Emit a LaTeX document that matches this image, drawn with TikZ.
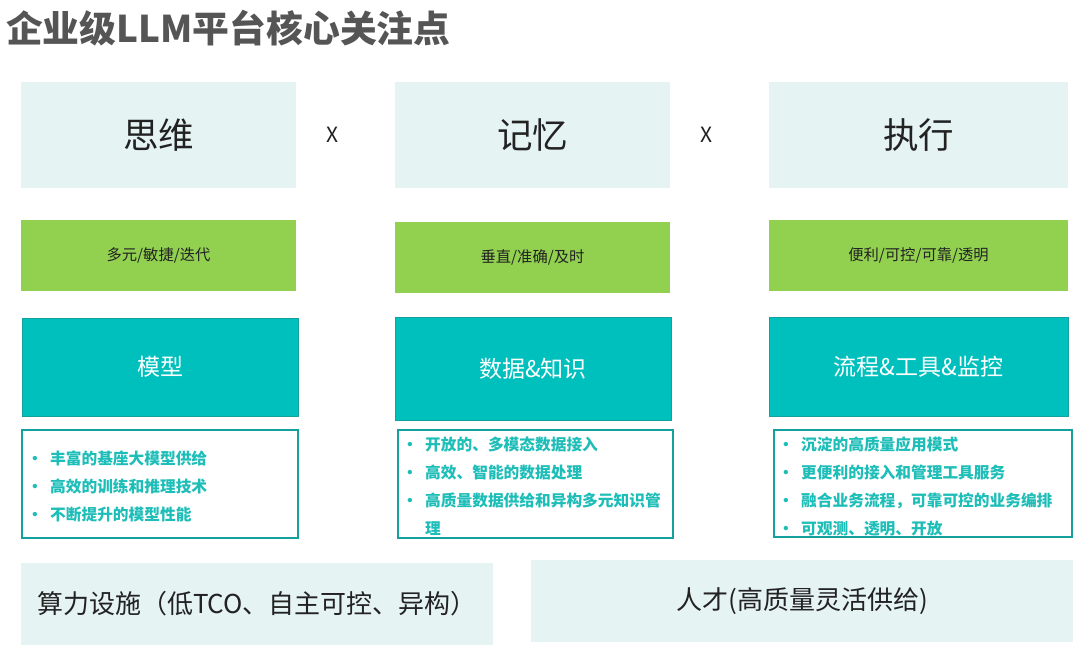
\documentclass[tikz,border=0pt]{standalone}
\usepackage{fontspec}
\setmainfont{Noto Sans CJK SC}
\definecolor{lightbg}{HTML}{E6F3F3}
\definecolor{lgreen}{HTML}{92D050}
\definecolor{teal1}{HTML}{00C0BD}
\definecolor{tealborder}{HTML}{14A19D}
\definecolor{bullettext}{HTML}{1DBDB8}
\definecolor{titlegray}{HTML}{555555}
\definecolor{headtext}{HTML}{222222}
\newcommand\bx[7]{\node[#1, minimum width={(#5)-(#3)}, minimum height={(#6)-(#4)}] (#2) at ({((#3)+(#5))/2},{((#4)+(#6))/2}) {#7};}
\newcommand\bl{\makebox[21pt][l]{\hspace{-2pt}\textbullet}}
\begin{document}
\begin{tikzpicture}[x=1pt,y=-1pt,
  lightbox/.style={fill=lightbg, draw=none, inner sep=0pt, text=headtext},
  headbox/.style={lightbox, font=\fontsize{35.5}{40}\selectfont},
  greenbox/.style={fill=lgreen, draw=none, inner sep=0pt, text=headtext, font=\fontsize{15.3}{18}\selectfont},
  tealbox/.style={fill=teal1, draw=tealborder, line width=1pt, inner sep=0pt, text=white, font=\fontsize{23}{28}\selectfont},
  listbox/.style={fill=white, draw=tealborder, line width=1.5pt, inner sep=0pt},
  listtext/.style={anchor=west, inner sep=0pt, text=bullettext, font=\bfseries\fontsize{15.7}{28}\selectfont, align=left},
  bottombox/.style={lightbox, font=\fontsize{26}{30}\selectfont},
  times/.style={text=headtext, font=\fontsize{21}{24}\selectfont, inner sep=0pt},
  titletext/.style={anchor=west, inner sep=0pt, text=titlegray, font=\bfseries\fontsize{36.8}{40}\selectfont}]
\useasboundingbox (0,0) rectangle (1080,656);
\node[titletext] (title) at (6,28) {企业级LLM平台核心关注点};
% row 1
\bx{headbox}{h1}{21}{82}{296}{188}{思维}
\bx{headbox}{h2}{395}{82}{670}{188}{记忆}
\bx{headbox}{h3}{769}{82}{1068}{188}{执行}
\node[times] (x1) at (333,135) {X};
\node[times] (x2) at (707,135) {X};
% row 2
\bx{greenbox}{g1}{21}{220}{296}{291}{多元/敏捷/迭代}
\bx{greenbox}{g2}{395}{222}{670}{293}{垂直/准确/及时}
\bx{greenbox}{g3}{769}{220}{1068}{291}{便利/可控/可靠/透明}
% row 3
\bx{tealbox}{t1}{22}{318}{298}{416}{模型}
\bx{tealbox}{t2}{395}{317}{671}{420}{数据\&知识}
\bx{tealbox}{t3}{769}{317}{1068}{416}{流程\&工具\&监控}
% row 4
\bx{listbox}{l1}{22}{430}{298}{538}{}
\bx{listbox}{l2}{398}{430}{673}{538}{}
\bx{listbox}{l3}{774}{430}{1072}{537}{}
\node[listtext] (l1t) at (29,487) {\begin{tabular}{@{}l@{}l@{}}
\bl & 丰富的基座大模型供给\\
\bl & 高效的训练和推理技术\\
\bl & 不断提升的模型性能
\end{tabular}};
\node[listtext] (l2t) at (404,486.5) {\begin{tabular}{@{}l@{}l@{}}
\bl & 开放的、多模态数据接入\\
\bl & 高效、智能的数据处理\\
\bl & 高质量数据供给和异构多元知识管\\
 & 理
\end{tabular}};
\node[listtext] (l3t) at (780,486.5) {\begin{tabular}{@{}l@{}l@{}}
\bl & 沉淀的高质量应用模式\\
\bl & 更便利的接入和管理工具服务\\
\bl & 融合业务流程，可靠可控的业务编排\\
\bl & 可观测、透明、开放
\end{tabular}};
% bottom
\bx{bottombox}{b1}{21}{563}{493}{645}{算力设施（低TCO、自主可控、异构）}
\bx{bottombox}{b2}{531}{560}{1073}{642}{人才(高质量灵活供给)}
\end{tikzpicture}
\end{document}
